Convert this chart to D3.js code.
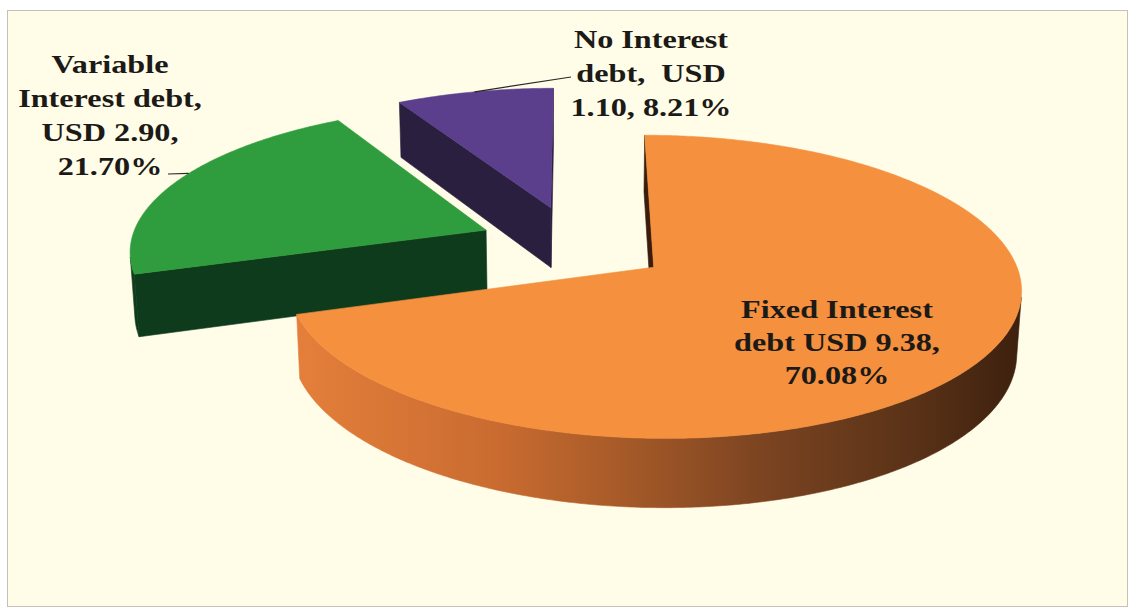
<!DOCTYPE html>
<html>
<head>
<meta charset="utf-8">
<script src="https://cdn.jsdelivr.net/npm/d3@7"></script>
<style>
  html, body { margin: 0; padding: 0; background: #ffffff; }
  svg { display: block; }
  .lbl { font-family: "Liberation Serif", "Times New Roman", serif; font-weight: bold; font-size: 26px; fill: #1c1a17; white-space: pre; }
</style>
</head>
<body>
<svg id="chart" width="1132" height="610"></svg>
<script>
// ---- data ----
const categories = ["Fixed Interest debt", "Variable Interest debt", "No Interest debt"];
const amountsUSD = [9.38, 2.90, 1.10];
const sharePct   = [70.08, 21.70, 8.21];

// label text, line by line, built from the values above
const fmt = d3.format(".2f");
const labelLines = [
  i => ["Fixed Interest", `debt USD ${fmt(amountsUSD[i])},`, `${fmt(sharePct[i])}%`],
  i => ["Variable", "Interest debt,", `USD ${fmt(amountsUSD[i])},`, `${fmt(sharePct[i])}%`],
  i => ["No Interest", "debt,  USD", `${fmt(amountsUSD[i])}, ${fmt(sharePct[i])}%`]
];

// ---- styling ----
const topColors  = ["#f4903e", "#2f9d3d", "#5b3e8c"];
const sideStops  = [
  [[0, "#e47f3b"], [0.28, "#c96b30"], [0.45, "#a65a28"], [0.65, "#7a4321"], [0.85, "#5a3217"], [1, "#3d200e"]],
  [[0, "#12421f"], [1, "#0c361a"]],
  [[0, "#2e2244"], [1, "#241a38"]]
];
const faceColors = ["#3b1d0c", "#0e3b1c", "#2a1f3e"];

// label layout: centre x, first baseline, line step; leader from a point to the slice rim
const labelLayout = [
  { x: 837, y: 318, step: 33 },
  { x: 110, y: 73,  step: 34, leaderFrom: [168, 174], rimFrac: 0.55 },
  { x: 651, y: 48,  step: 34, leaderFrom: [571, 77],  rimFrac: 0.5 }
];

// ---- 3D projection of the pie ----
const W = 1132, H = 610;
const view = { alpha: Math.asin(0.402), D: 7.25, F: 2581, cx: 574.5, cy: 244 };
const sA = Math.sin(view.alpha), cA = Math.cos(view.alpha);
const explode = 0.27;   // radial offset of every slice (radius = 1)
const thick = 0.19;     // pie thickness

function project(X, Y, Z) {
  const depth = view.D - Y * sA - Z * cA;
  return [view.cx + view.F * X / depth, view.cy - view.F * (Y * cA - Z * sA) / depth];
}

const svg = d3.select("#chart");
const defs = svg.append("defs");

// plot area
svg.append("rect").attr("x", 7.5).attr("y", 10.5).attr("width", 1120).attr("height", 596)
  .attr("fill", "#fffce8").attr("stroke", "#c4c2b8").attr("stroke-width", 1);

const pie = d3.pie().sort(null).value(d => d)(sharePct);

const slices = pie.map((p, i) => {
  const mid = (p.startAngle + p.endAngle) / 2;
  const ox = explode * Math.sin(mid), oz = -explode * Math.cos(mid);
  const rim = (t, Y) => project(ox + Math.sin(t), Y, oz - Math.cos(t));
  const apex = Y => project(ox, Y, oz);
  const depth = view.D - oz * cA;
  return { p, i, ox, oz, rim, apex, depth };
});

const line = d3.line();
const gPie = svg.append("g");

// back to front
slices.slice().sort((a, b) => b.depth - a.depth).forEach(sl => {
  const { p, i, ox, oz, rim, apex } = sl;
  const g = gPie.append("g");
  const a0 = p.startAngle, a1 = p.endAngle;
  const n = Math.max(8, Math.ceil((a1 - a0) / 0.01));
  const ts = d3.range(n + 1).map(k => a0 + (a1 - a0) * k / n);

  // outer curved side: keep only the parts that face the viewer
  const faces = t => -ox * Math.sin(t) - (view.D * cA - oz) * Math.cos(t) - 1 > 0;
  const runs = [];
  let cur = null;
  ts.forEach(t => {
    if (faces(t)) { if (!cur) { cur = []; runs.push(cur); } cur.push(t); }
    else cur = null;
  });
  runs.forEach((run, r) => {
    const pts = run.map(t => rim(t, 0)).concat(run.slice().reverse().map(t => rim(t, -thick)));
    const xs = pts.map(d => d[0]);
    const gid = `side${i}_${r}`;
    const grad = defs.append("linearGradient").attr("id", gid)
      .attr("gradientUnits", "userSpaceOnUse")
      .attr("x1", d3.min(xs)).attr("x2", d3.max(xs)).attr("y1", 0).attr("y2", 0);
    sideStops[i].forEach(([o, c]) => grad.append("stop").attr("offset", o).attr("stop-color", c));
    g.append("path").attr("d", line(pts) + "Z")
      .attr("fill", `url(#${gid})`).attr("stroke", `url(#${gid})`).attr("stroke-width", 0.6);
  });

  // radial cut faces
  [[a0, -Math.cos(a0), -Math.sin(a0)], [a1, Math.cos(a1), Math.sin(a1)]].forEach(([t, nx, nz]) => {
    if (nx * (-ox) + nz * (view.D * cA - oz) <= 0) return;
    const pts = [apex(0), rim(t, 0), rim(t, -thick), apex(-thick)];
    g.append("path").attr("d", line(pts) + "Z")
      .attr("fill", faceColors[i]).attr("stroke", faceColors[i]).attr("stroke-width", 0.6);
  });

  // top face
  const topPts = [apex(0)].concat(ts.map(t => rim(t, 0)));
  g.append("path").attr("d", line(topPts) + "Z")
    .attr("fill", topColors[i]).attr("stroke", topColors[i]).attr("stroke-width", 0.6);
});

// ---- labels ----
const gLbl = svg.append("g");
slices.forEach(sl => {
  const L = labelLayout[sl.i];
  if (L.leaderFrom) {
    const t = sl.p.startAngle + (sl.p.endAngle - sl.p.startAngle) * L.rimFrac;
    const end = sl.rim(t, 0);
    gLbl.append("line").attr("x1", L.leaderFrom[0]).attr("y1", L.leaderFrom[1])
      .attr("x2", end[0]).attr("y2", end[1]).attr("stroke", "#2a2a2a").attr("stroke-width", 1.2);
  }
  labelLines[sl.i](sl.i).forEach((txt, k) => {
    gLbl.append("text").attr("class", "lbl")
      .attr("text-anchor", "middle")
      .attr("transform", `translate(${L.x},${L.y + k * L.step}) scale(1.24,1)`)
      .text(txt);
  });
});
</script>
</body>
</html>
